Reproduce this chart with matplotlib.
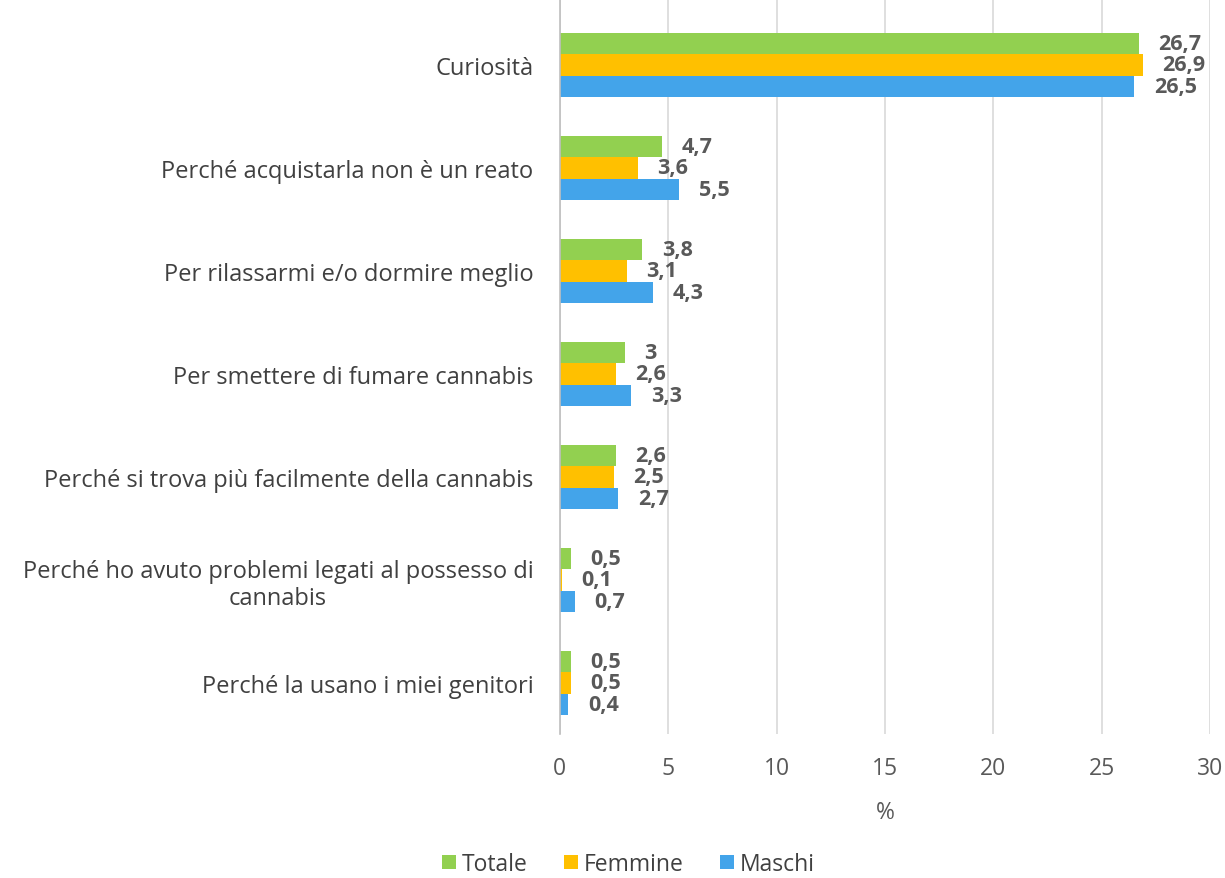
import numpy as np
import matplotlib
matplotlib.use("Agg")
import matplotlib.pyplot as plt

# Data
categories = [
    "Curiosità",
    "Perché acquistarla non è un reato",
    "Per rilassarmi e/o dormire meglio",
    "Per smettere di fumare cannabis",
    "Perché si trova più facilmente della cannabis",
    "Perché ho avuto problemi legati al possesso di\ncannabis",
    "Perché la usano i miei genitori",
]
totale = [26.7, 4.7, 3.8, 3.0, 2.6, 0.5, 0.5]
femmine = [26.9, 3.6, 3.1, 2.6, 2.5, 0.1, 0.5]
maschi = [26.5, 5.5, 4.3, 3.3, 2.7, 0.7, 0.4]
series_names = ["Totale", "Femmine", "Maschi"]
colors = ["#92D050", "#FFC000", "#43A4EA"]

plt.rcParams['font.family'] = ['Open Sans', 'DejaVu Sans']
FS = 16.5

fig = plt.figure(figsize=(12.25, 8.79), dpi=100)
ax = fig.add_axes([0.457, 0.164, 0.531, 0.836])

y = np.arange(len(categories))
h = 0.207
offsets = [-h, 0, h]
text_col = "#404040"

for vals, name, col, off in zip([totale, femmine, maschi], series_names, colors, offsets):
    bars = ax.barh(y + off, vals, height=h, color=col, label=name, zorder=3)
    for b, v in zip(bars, vals):
        lab = f"{v:g}".replace(".", ",")
        ax.annotate(lab, (b.get_width(), b.get_y() + b.get_height() / 2),
                    xytext=(14, 0), textcoords="offset points",
                    va="center", ha="left", fontsize=15.5, fontweight="bold",
                    color="#595959", zorder=4)

ax.set_yticks(y)
ax.set_yticklabels(categories, fontsize=17, color=text_col, multialignment="center")
ax.set_ylim(6.495, -0.64)
ax.set_xlim(0, 30)
ax.set_xticks(range(0, 31, 5))
ax.tick_params(axis="x", labelsize=FS, colors="#595959", length=0, pad=16)
ax.tick_params(axis="y", length=0, pad=19)
ax.set_xlabel("%", fontsize=FS, color="#595959", labelpad=14)

ax.grid(axis="x", color="#D9D9D9", linewidth=1.2, zorder=0)
for s in ["top", "right", "bottom"]:
    ax.spines[s].set_visible(False)
ax.spines["left"].set_color("#BFBFBF")
ax.spines["left"].set_linewidth(1.2)
ax.spines["left"].set_zorder(5)

fig.legend(loc="center", bbox_to_anchor=(0.513, 0.016), ncol=3, frameon=False,
           fontsize=FS, handlelength=0.6, handleheight=0.6, handletextpad=0.25,
           columnspacing=1.6, labelcolor=text_col)

fig.savefig("out.png", dpi=100)
